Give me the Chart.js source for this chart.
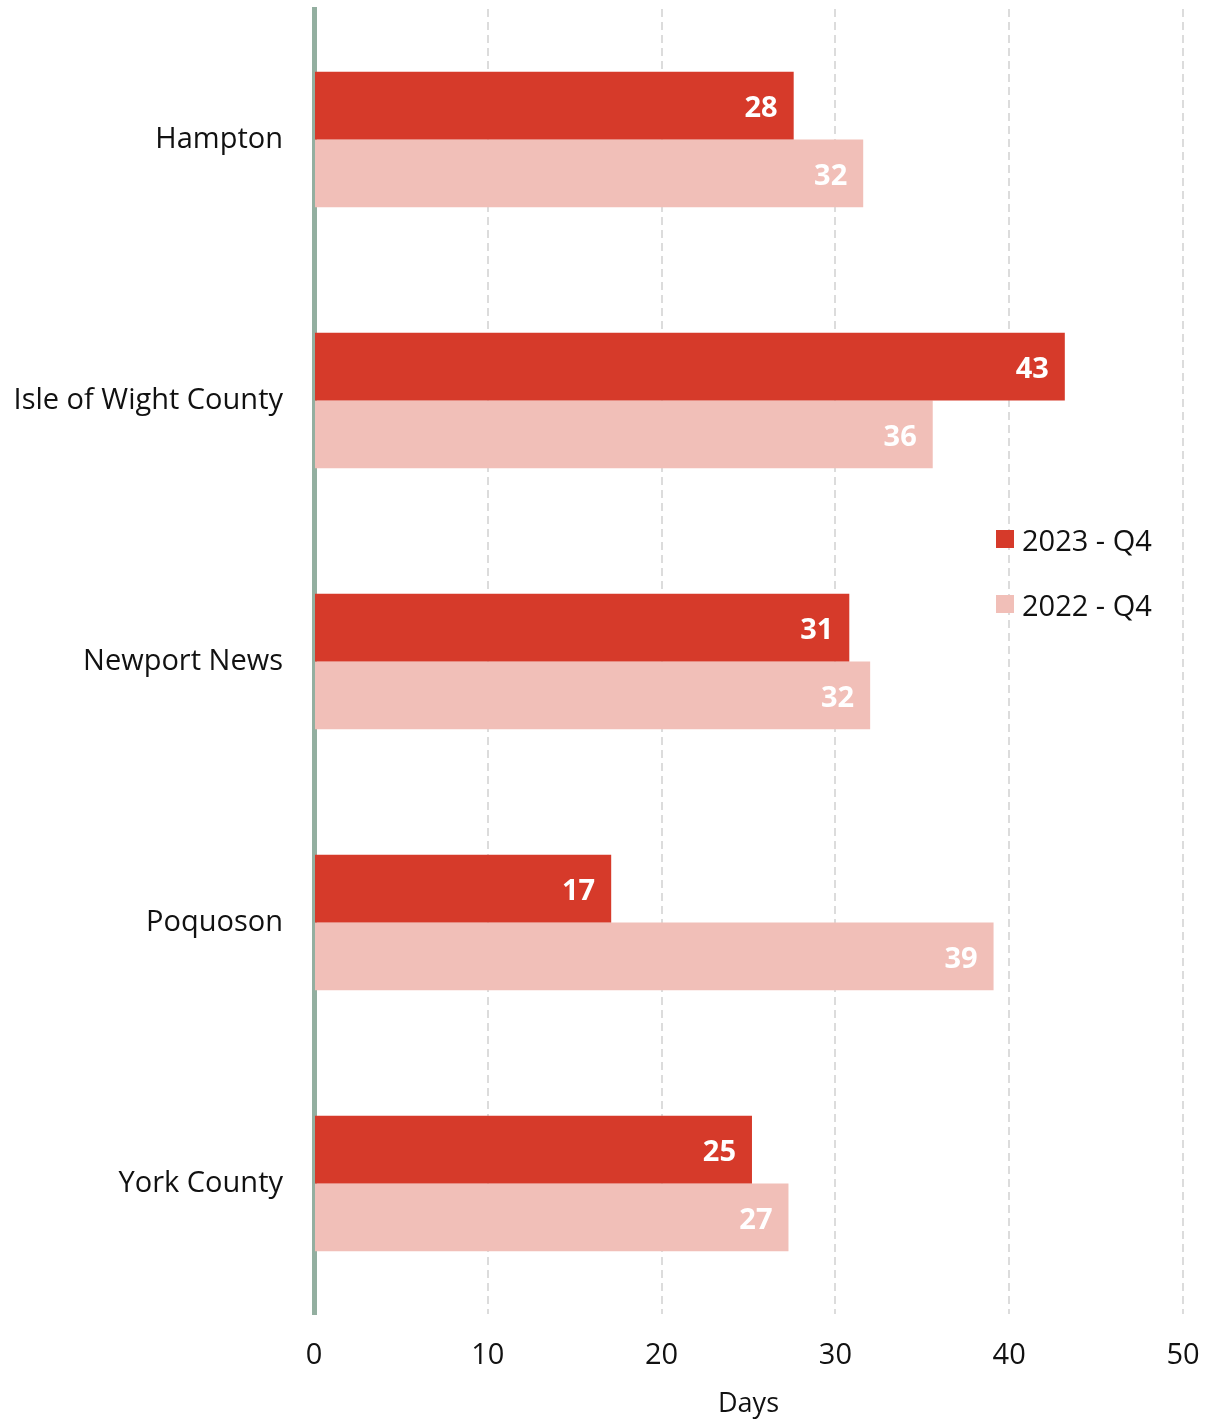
<!DOCTYPE html>
<html>
<head>
<meta charset="utf-8">
<script src="https://cdn.jsdelivr.net/npm/chart.js@4/dist/chart.umd.min.js"></script>
<style>
  body { margin: 0; background: #fff; font-family: "Open Sans", sans-serif; }
  #wrap { position: relative; width: 1213px; height: 1421px; }
  #legend { position: absolute; left: 996px; top: 519px; font-size: 29px; color: #111; }
  #legend div { display: flex; align-items: center; height: 40px; margin-bottom: 25px; }
  #legend span.box { width: 18px; height: 18px; margin-right: 8px; display: inline-block; }
</style>
</head>
<body>
<div id="wrap">
  <canvas id="chart" width="1213" height="1421"></canvas>
  <div id="legend"></div>
</div>
<script>
const categories = ['Hampton', 'Isle of Wight County', 'Newport News', 'Poquoson', 'York County'];
const seriesNames = ['2023 - Q4', '2022 - Q4'];
const q4_2023 = [27.6, 43.2, 30.8, 17.1, 25.2];
const q4_2022 = [31.6, 35.6, 32.0, 39.1, 27.3];
const xTicks = [0, 10, 20, 30, 40, 50];
const colors = ['#d63a2a', '#f1bfb8'];

const barLabels = {
    id: 'barLabels',
    afterDatasetsDraw(chart) {
        const c = chart.ctx;
        c.save();
        c.font = 'bold 29px "Open Sans"';
        c.fillStyle = '#fff';
        c.textAlign = 'right';
        c.textBaseline = 'middle';
        chart.data.datasets.forEach((ds, i) => {
            chart.getDatasetMeta(i).data.forEach((bar, j) => {
                c.fillText(Math.round(ds.data[j]), bar.x - 16, bar.y + 3);
            });
        });
        c.restore();
    }
};

const ctx = document.getElementById('chart').getContext('2d');

const chart = new Chart(ctx, {
    type: 'bar',
    data: {
        labels: categories,
        datasets: [
            { label: seriesNames[0], data: q4_2023, backgroundColor: colors[0] },
            { label: seriesNames[1], data: q4_2022, backgroundColor: colors[1] }
        ]
    },
    options: {
        indexAxis: 'y',
        responsive: false,
        animation: false,
        layout: { padding: { top: 9, right: 30, left: 0, bottom: 0 } },
        datasets: { bar: { barPercentage: 1, categoryPercentage: 0.52 } },
        plugins: { legend: { display: false }, tooltip: { enabled: false } },
        scales: {
            x: {
                min: 0, max: 50,
                afterBuildTicks: s => { s.ticks = xTicks.map(v => ({ value: v })); },
                grid: { color: '#dcdcdc', lineWidth: 2, drawTicks: false },
                border: { display: false, dash: [8, 5] },
                ticks: { font: { family: 'Open Sans', size: 29 }, color: '#111', padding: 24 },
                title: { display: true, text: 'Days', font: { family: 'Open Sans', size: 27 }, color: '#111', padding: { top: 4, bottom: 0 } },
                afterFit: s => { s.height = 107; s.paddingLeft = 0; s.paddingRight = 0; }
            },
            y: {
                grid: { display: false, drawTicks: false },
                border: { display: true, color: '#93afa0', width: 5 },
                ticks: { font: { family: 'Open Sans', size: 29 }, color: '#111', padding: 31 },
                afterFit: s => { s.width = 314; s.paddingTop = 0; s.paddingBottom = 0; }
            }
        }
    },
    plugins: [barLabels]
});

const legend = document.getElementById('legend');
chart.data.datasets.forEach(ds => {
    const row = document.createElement('div');
    row.innerHTML = `<span class="box" style="background:${ds.backgroundColor}"></span>${ds.label}`;
    legend.appendChild(row);
});
</script>
</body>
</html>
